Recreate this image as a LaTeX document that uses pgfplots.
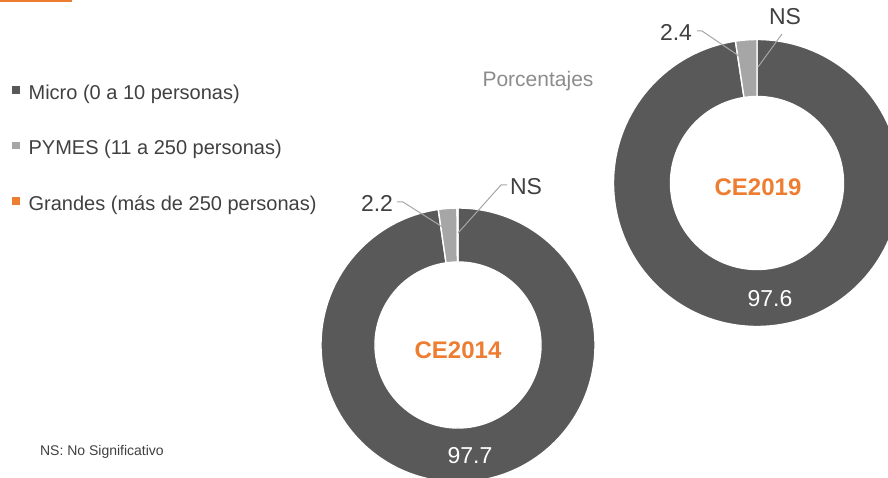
\documentclass[border=0pt]{standalone}
\usepackage{fontspec}
\setmainfont{Liberation Sans}
\usepackage{pgfplots}
\pgfplotsset{compat=1.18}

\definecolor{micro}{HTML}{595959}
\definecolor{pymes}{HTML}{A6A6A6}
\definecolor{grandes}{HTML}{ED7D31}
\definecolor{txt}{HTML}{404040}
\definecolor{lead}{HTML}{A6A6A6}
\definecolor{subt}{HTML}{8C8C8C}

% donut slice: cx, cy, R, r (px), start %, end %, colour
\newcommand{\slice}[7]{%
  \filldraw[fill=#7, draw=white, line width=0.7pt, shift={(axis cs:#1,#2)}]
    ({90-3.6*#5}:#3*0.5pt) arc[start angle={90-3.6*#5}, end angle={90-3.6*#6}, radius=#3*0.5pt]
    -- ({90-3.6*#6}:#4*0.5pt) arc[start angle={90-3.6*#6}, end angle={90-3.6*#5}, radius=#4*0.5pt] -- cycle;}

\begin{document}
\begin{tikzpicture}
\useasboundingbox (0,0) rectangle (444pt,238.5pt);
\clip (0,0) rectangle (444pt,238.5pt);
\begin{axis}[
    x=0.5pt, y=0.5pt,
    xmin=0, xmax=888, ymin=0, ymax=477,
    hide axis, clip=false,
    legend cell align=left,
    legend style={draw=none, fill=none, at={(axis cs:12,392.5)}, anchor=north west,
      inner sep=0pt, row sep=19pt, column sep=4.5pt,
      font=\fontsize{10}{12}\selectfont, text=txt,
      nodes={inner sep=0pt}}]

  \addlegendimage{legend image code/.code={\fill[micro] (0pt,0.3pt) rectangle (3.2pt,3.5pt);}}
  \addlegendentry{Micro (0 a 10 personas)}
  \addlegendimage{legend image code/.code={\fill[pymes] (0pt,0.3pt) rectangle (3.2pt,3.5pt);}}
  \addlegendentry{PYMES (11 a 250 personas)}
  \addlegendimage{legend image code/.code={\fill[grandes] (0pt,0.3pt) rectangle (3.2pt,3.5pt);}}
  \addlegendentry{Grandes (más de 250 personas)}

  % CE2014: Micro 97.7, PYMES 2.2, Grandes NS
  \slice{458}{132}{137}{83}{0}{97.7}{micro}
  \slice{458}{132}{137}{83}{97.7}{99.9}{pymes}
  \slice{458}{132}{137}{83}{99.9}{100}{grandes}

  % CE2019: Micro 97.6, PYMES 2.4, Grandes NS
  \slice{757}{294}{143.5}{86.5}{0}{97.6}{micro}
  \slice{757}{294}{143.5}{86.5}{97.6}{100}{pymes}

  % leader lines
  \draw[lead, line width=0.5pt] (axis cs:397,275) -- (axis cs:403,275) -- (axis cs:452,244);
  \draw[lead, line width=0.5pt] (axis cs:507,292) -- (axis cs:501,292) -- (axis cs:458,244);
  \draw[lead, line width=0.5pt] (axis cs:697,446) -- (axis cs:702,446) -- (axis cs:748,415);
  \draw[lead, line width=0.5pt] (axis cs:782,443) -- (axis cs:758,410);

  \node[font=\fontsize{11.5}{13}\selectfont, text=txt] at (axis cs:377,274) {2.2};
  \node[font=\fontsize{11.5}{13}\selectfont, text=txt] at (axis cs:526,290) {NS};
  \node[font=\fontsize{11.5}{13}\selectfont, text=txt] at (axis cs:676,445) {2.4};
  \node[font=\fontsize{11.5}{13}\selectfont, text=txt] at (axis cs:785,460) {NS};

  \node[font=\fontsize{11.5}{13}\selectfont, text=white] at (axis cs:470,21) {97.7};
  \node[font=\fontsize{11.5}{13}\selectfont, text=white] at (axis cs:770,178.5) {97.6};

  \node[font=\bfseries\fontsize{12}{14}\selectfont, text=grandes] at (axis cs:458,126.5) {CE2014};
  \node[font=\bfseries\fontsize{12}{14}\selectfont, text=grandes] at (axis cs:758,289.5) {CE2019};

  \node[font=\fontsize{10.5}{12}\selectfont, text=subt] at (axis cs:538,396) {Porcentajes};
  \node[font=\fontsize{7}{8}\selectfont, text=txt, anchor=west] at (axis cs:33,25) {NS: No Significativo};

  \draw[grandes, line width=1pt] (axis cs:0,475.5) -- (axis cs:72,475.5);
\end{axis}
\end{tikzpicture}
\end{document}
